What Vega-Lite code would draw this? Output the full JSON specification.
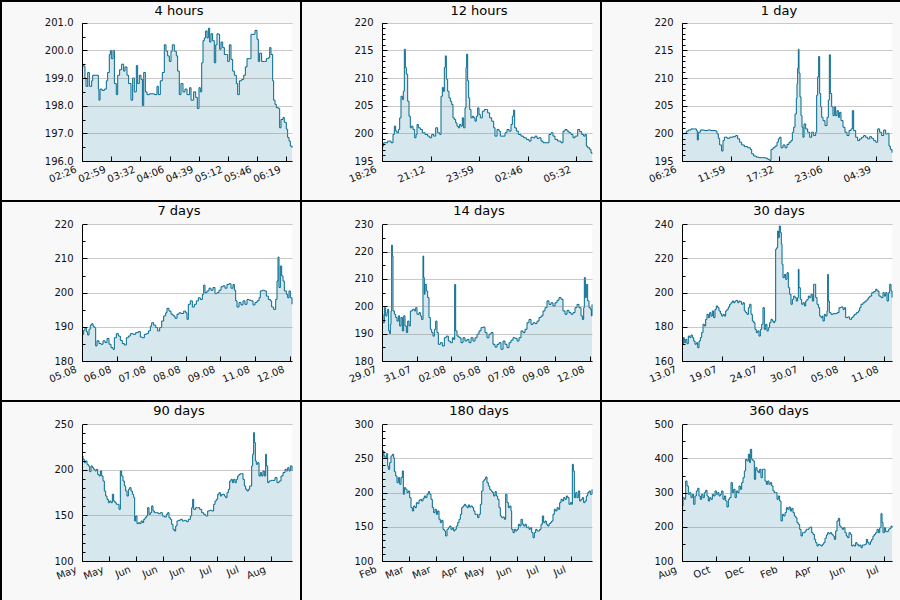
{
"$schema":"https://vega.github.io/schema/vega-lite/v6.json",
"background":"#f8f8f8",
"padding":0,
"columns":3,
"spacing":0,
"bounds":"flush",
"config":{
 "font":"DejaVu Sans",
 "view":{"stroke":"#000","strokeWidth":2,"fill":"#f8f8f8"},
 "title":{"font":"DejaVu Sans","fontSize":13,"fontWeight":"normal","color":"#000","anchor":"middle","offset":-17,"dx":28,"baseline":"alphabetic"},
 "axis":{"labelFont":"DejaVu Sans","labelFontSize":10,"labelColor":"#111","domainColor":"#000","tickColor":"#000","tickSize":-5,"labelPadding":14,"grid":false,"gridColor":"#888","gridOpacity":0.45,"labelOverlap":false,"labelFlush":false,"labelBound":false},
 "axisX":{"labelAngle":-22,"labelAlign":"right","labelBaseline":"top","labelPadding":8,"labelOffset":-8}
},
"datasets":{
"h4":[{"t":0,"v":199.5},{"t":1.9,"v":199.43},{"t":3.4,"v":199.0},{"t":4.6,"v":198.7},{"t":6.5,"v":199.2},{"t":8.4,"v":198.7},{"t":11.0,"v":198.9},{"t":12.2,"v":199.1},{"t":17.1,"v":199.1},{"t":18.7,"v":198.6},{"t":19.4,"v":198.2},{"t":20.6,"v":198.6},{"t":22.9,"v":198.55},{"t":25.5,"v":198.6},{"t":27.8,"v":198.9},{"t":29.3,"v":199.2},{"t":31.2,"v":199.85},{"t":32.4,"v":200.0},{"t":33.5,"v":199.7},{"t":35.4,"v":200.0},{"t":37.0,"v":198.8},{"t":39.2,"v":198.4},{"t":40.8,"v":199.1},{"t":43.0,"v":199.3},{"t":45.3,"v":199.5},{"t":47.6,"v":199.25},{"t":49.1,"v":199.4},{"t":51.4,"v":199.1},{"t":53.3,"v":198.8},{"t":56.0,"v":198.2},{"t":57.9,"v":199.0},{"t":59.8,"v":198.5},{"t":62.1,"v":199.45},{"t":63.6,"v":198.8},{"t":65.5,"v":199.1},{"t":67.4,"v":198.95},{"t":69.0,"v":198.0},{"t":70.5,"v":199.2},{"t":72.4,"v":198.5},{"t":74.3,"v":198.4},{"t":77.0,"v":198.43},{"t":82.7,"v":198.4},{"t":85.7,"v":198.7},{"t":87.2,"v":198.4},{"t":89.5,"v":198.9},{"t":91.8,"v":199.2},{"t":94.1,"v":200.2},{"t":96.0,"v":199.97},{"t":97.9,"v":199.8},{"t":99.8,"v":199.6},{"t":101.7,"v":199.97},{"t":103.2,"v":200.2},{"t":105.5,"v":199.97},{"t":107.8,"v":199.8},{"t":109.3,"v":199.25},{"t":111.2,"v":198.4},{"t":113.1,"v":198.8},{"t":115.4,"v":198.5},{"t":117.7,"v":198.6},{"t":120.0,"v":198.4},{"t":123.0,"v":198.65},{"t":124.6,"v":198.2},{"t":127.6,"v":198.5},{"t":129.9,"v":198.3},{"t":131.8,"v":197.9},{"t":133.7,"v":198.65},{"t":135.2,"v":198.5},{"t":136.8,"v":199.55},{"t":138.3,"v":200.35},{"t":139.8,"v":200.45},{"t":141.3,"v":200.7},{"t":142.9,"v":200.45},{"t":144.4,"v":200.8},{"t":145.9,"v":200.3},{"t":147.4,"v":200.6},{"t":149.3,"v":200.35},{"t":151.2,"v":199.55},{"t":152.8,"v":200.2},{"t":154.3,"v":200.6},{"t":155.8,"v":200.58},{"t":157.3,"v":200.04},{"t":158.9,"v":200.3},{"t":160.8,"v":200.1},{"t":162.7,"v":199.85},{"t":165.0,"v":199.85},{"t":166.5,"v":199.6},{"t":168.4,"v":200.2},{"t":170.3,"v":199.67},{"t":172.2,"v":199.25},{"t":174.1,"v":199.1},{"t":176.4,"v":198.8},{"t":177.9,"v":198.4},{"t":179.8,"v":198.9},{"t":182.5,"v":198.95},{"t":184.8,"v":199.1},{"t":186.7,"v":199.4},{"t":188.6,"v":199.7},{"t":191.2,"v":199.7},{"t":193.1,"v":200.58},{"t":195.4,"v":200.58},{"t":197.7,"v":200.72},{"t":200.0,"v":200.4},{"t":201.5,"v":199.6},{"t":203.0,"v":199.9},{"t":205.3,"v":199.6},{"t":208.4,"v":199.6},{"t":210.7,"v":199.7},{"t":213.0,"v":199.73},{"t":214.5,"v":200.1},{"t":216.0,"v":199.85},{"t":217.9,"v":198.9},{"t":219.0,"v":198.2},{"t":220.6,"v":198.05},{"t":222.1,"v":197.93},{"t":224.4,"v":197.9},{"t":225.9,"v":197.2},{"t":227.4,"v":197.5},{"t":229.7,"v":197.57},{"t":231.2,"v":197.4},{"t":233.5,"v":197.15},{"t":235.0,"v":196.85},{"t":236.6,"v":196.72},{"t":238.1,"v":196.54},{"t":240,"v":196.48}],
"h12":[{"t":0,"v":197.7},{"t":5.7,"v":198.3},{"t":13.7,"v":198.3},{"t":19.4,"v":198.6},{"t":30.9,"v":198.3},{"t":37.7,"v":199.8},{"t":42.3,"v":201.3},{"t":46.9,"v":200.4},{"t":51.4,"v":200.1},{"t":56.0,"v":200.7},{"t":60.6,"v":202.8},{"t":65.1,"v":206.7},{"t":69.7,"v":206.1},{"t":73.1,"v":207.6},{"t":76.6,"v":215.2},{"t":80.0,"v":211.9},{"t":83.4,"v":210.7},{"t":88.0,"v":205.8},{"t":92.6,"v":203.1},{"t":97.1,"v":201.0},{"t":101.7,"v":201.3},{"t":106.3,"v":200.7},{"t":112.0,"v":199.2},{"t":116.6,"v":199.8},{"t":120.0,"v":201.6},{"t":124.6,"v":201.0},{"t":131.4,"v":200.7},{"t":138.3,"v":200.1},{"t":147.4,"v":199.8},{"t":156.6,"v":199.5},{"t":163.4,"v":199.2},{"t":170.3,"v":199.8},{"t":177.1,"v":199.5},{"t":184.0,"v":201.0},{"t":190.9,"v":200.1},{"t":197.7,"v":199.8},{"t":202.3,"v":206.7},{"t":206.9,"v":208.3},{"t":210.3,"v":207.6},{"t":213.7,"v":211.9},{"t":217.1,"v":214.0},{"t":220.6,"v":209.8},{"t":225.1,"v":207.6},{"t":229.7,"v":206.4},{"t":234.3,"v":205.8},{"t":238.9,"v":205.2},{"t":243.4,"v":202.8},{"t":248.0,"v":202.5},{"t":252.6,"v":201.9},{"t":257.1,"v":201.3},{"t":261.7,"v":201.0},{"t":266.3,"v":201.6},{"t":270.9,"v":201.3},{"t":275.4,"v":202.8},{"t":280.0,"v":201.0},{"t":284.6,"v":204.6},{"t":288.0,"v":211.9},{"t":290.3,"v":214.3},{"t":293.7,"v":209.5},{"t":297.1,"v":206.4},{"t":300.6,"v":204.3},{"t":305.1,"v":202.8},{"t":309.7,"v":203.1},{"t":314.3,"v":202.8},{"t":318.9,"v":202.2},{"t":323.4,"v":203.1},{"t":328.0,"v":204.6},{"t":332.6,"v":203.4},{"t":337.1,"v":202.8},{"t":344.0,"v":204.0},{"t":350.9,"v":204.3},{"t":357.7,"v":204.3},{"t":362.3,"v":203.7},{"t":369.1,"v":202.8},{"t":376.0,"v":202.2},{"t":382.9,"v":201.0},{"t":387.4,"v":199.5},{"t":394.3,"v":200.7},{"t":401.1,"v":200.4},{"t":405.7,"v":199.5},{"t":414.9,"v":199.5},{"t":421.7,"v":200.1},{"t":428.6,"v":200.7},{"t":435.4,"v":200.4},{"t":442.3,"v":201.6},{"t":446.9,"v":203.1},{"t":451.4,"v":204.2},{"t":454.9,"v":201.0},{"t":460.6,"v":200.4},{"t":467.4,"v":199.8},{"t":476.6,"v":199.5},{"t":485.7,"v":199.2},{"t":494.9,"v":198.9},{"t":504.0,"v":198.6},{"t":510.9,"v":199.3},{"t":517.7,"v":199.2},{"t":524.6,"v":199.5},{"t":531.4,"v":199.1},{"t":538.3,"v":199.2},{"t":545.1,"v":198.6},{"t":552.0,"v":198.3},{"t":565.7,"v":198.3},{"t":572.6,"v":199.8},{"t":579.4,"v":200.1},{"t":586.3,"v":199.5},{"t":593.1,"v":198.9},{"t":602.3,"v":198.6},{"t":613.7,"v":198.3},{"t":620.6,"v":200.4},{"t":627.4,"v":200.7},{"t":634.3,"v":200.4},{"t":641.1,"v":200.1},{"t":648.0,"v":199.8},{"t":654.9,"v":199.2},{"t":661.7,"v":199.5},{"t":670.9,"v":200.7},{"t":677.7,"v":200.3},{"t":684.6,"v":199.8},{"t":691.4,"v":199.5},{"t":696.0,"v":199.8},{"t":700.6,"v":197.7},{"t":705.1,"v":197.4},{"t":712.0,"v":197.1},{"t":716.6,"v":196.5},{"t":720,"v":196.3}],
"d1":[{"t":0,"v":199.9},{"t":11.4,"v":200.0},{"t":29.7,"v":200.4},{"t":43.4,"v":200.6},{"t":61.7,"v":200.8},{"t":84.6,"v":200.8},{"t":98.3,"v":200.5},{"t":105.1,"v":198.8},{"t":112.0,"v":200.2},{"t":125.7,"v":200.6},{"t":153.1,"v":200.5},{"t":176.0,"v":200.6},{"t":198.9,"v":200.5},{"t":230.9,"v":200.4},{"t":240.0,"v":199.9},{"t":249.1,"v":199.1},{"t":258.3,"v":197.9},{"t":272.0,"v":196.8},{"t":281.1,"v":198.7},{"t":290.3,"v":199.3},{"t":308.6,"v":199.1},{"t":326.9,"v":199.3},{"t":349.7,"v":199.4},{"t":368.0,"v":199.6},{"t":381.7,"v":199.0},{"t":395.4,"v":198.4},{"t":409.1,"v":197.9},{"t":427.4,"v":197.6},{"t":450.3,"v":197.4},{"t":468.6,"v":197.1},{"t":477.7,"v":196.3},{"t":491.4,"v":195.9},{"t":509.7,"v":195.7},{"t":528.0,"v":195.6},{"t":550.9,"v":195.6},{"t":573.7,"v":195.5},{"t":587.4,"v":195.3},{"t":601.1,"v":195.1},{"t":610.3,"v":197.1},{"t":624.0,"v":197.4},{"t":637.7,"v":197.7},{"t":651.4,"v":198.4},{"t":660.6,"v":199.0},{"t":669.7,"v":199.3},{"t":678.9,"v":197.4},{"t":692.6,"v":197.9},{"t":706.3,"v":197.4},{"t":720.0,"v":198.0},{"t":733.7,"v":198.4},{"t":747.4,"v":198.7},{"t":756.6,"v":200.2},{"t":765.7,"v":201.1},{"t":774.9,"v":203.5},{"t":784.0,"v":206.3},{"t":788.6,"v":209.0},{"t":793.1,"v":211.8},{"t":797.7,"v":215.2},{"t":802.3,"v":210.9},{"t":809.1,"v":206.6},{"t":816.0,"v":203.2},{"t":822.9,"v":201.1},{"t":829.7,"v":199.3},{"t":836.6,"v":201.7},{"t":848.0,"v":200.8},{"t":861.7,"v":200.2},{"t":875.4,"v":199.3},{"t":889.1,"v":200.2},{"t":902.9,"v":199.6},{"t":916.6,"v":200.2},{"t":923.4,"v":206.9},{"t":930.3,"v":210.2},{"t":937.1,"v":213.9},{"t":944.0,"v":207.2},{"t":950.9,"v":204.8},{"t":957.7,"v":202.9},{"t":966.9,"v":202.3},{"t":980.6,"v":201.4},{"t":994.3,"v":202.9},{"t":1003.4,"v":206.0},{"t":1010.3,"v":214.2},{"t":1017.1,"v":207.2},{"t":1026.3,"v":204.8},{"t":1035.4,"v":203.2},{"t":1044.6,"v":204.8},{"t":1053.7,"v":203.2},{"t":1062.9,"v":204.1},{"t":1072.0,"v":202.9},{"t":1081.1,"v":203.8},{"t":1090.3,"v":202.3},{"t":1104.0,"v":201.1},{"t":1117.7,"v":200.2},{"t":1131.4,"v":199.6},{"t":1145.1,"v":200.5},{"t":1158.9,"v":200.8},{"t":1168.0,"v":204.1},{"t":1177.1,"v":200.5},{"t":1190.9,"v":199.3},{"t":1204.6,"v":198.7},{"t":1218.3,"v":199.0},{"t":1232.0,"v":199.3},{"t":1245.7,"v":199.6},{"t":1259.4,"v":199.3},{"t":1273.1,"v":199.0},{"t":1286.9,"v":199.4},{"t":1300.6,"v":199.1},{"t":1314.3,"v":198.7},{"t":1328.0,"v":198.4},{"t":1341.7,"v":200.8},{"t":1355.4,"v":200.2},{"t":1369.1,"v":199.6},{"t":1382.9,"v":200.6},{"t":1396.6,"v":199.9},{"t":1410.3,"v":200.0},{"t":1419.4,"v":197.7},{"t":1428.6,"v":197.1},{"t":1440,"v":196.5}],
"d7":[{"t":0,"v":187.8},{"t":0.056,"v":189.0},{"t":0.1,"v":189.8},{"t":0.144,"v":188.6},{"t":0.189,"v":187.6},{"t":0.233,"v":189.3},{"t":0.278,"v":190.5},{"t":0.322,"v":190.9},{"t":0.367,"v":190.2},{"t":0.411,"v":189.8},{"t":0.456,"v":184.4},{"t":0.5,"v":185.9},{"t":0.567,"v":185.1},{"t":0.633,"v":184.9},{"t":0.7,"v":185.9},{"t":0.767,"v":185.4},{"t":0.833,"v":186.6},{"t":0.9,"v":184.9},{"t":0.967,"v":183.9},{"t":1.033,"v":183.4},{"t":1.078,"v":186.8},{"t":1.144,"v":188.0},{"t":1.211,"v":187.3},{"t":1.278,"v":186.0},{"t":1.344,"v":185.1},{"t":1.411,"v":184.7},{"t":1.478,"v":186.8},{"t":1.544,"v":187.3},{"t":1.611,"v":188.0},{"t":1.7,"v":187.8},{"t":1.789,"v":188.3},{"t":1.878,"v":188.6},{"t":1.944,"v":187.0},{"t":2.011,"v":186.8},{"t":2.078,"v":187.8},{"t":2.144,"v":188.0},{"t":2.211,"v":188.8},{"t":2.278,"v":190.2},{"t":2.322,"v":191.2},{"t":2.389,"v":190.5},{"t":2.456,"v":189.8},{"t":2.522,"v":188.8},{"t":2.589,"v":189.8},{"t":2.656,"v":191.7},{"t":2.722,"v":193.2},{"t":2.789,"v":194.1},{"t":2.833,"v":195.4},{"t":2.9,"v":194.6},{"t":2.967,"v":193.7},{"t":3.033,"v":193.2},{"t":3.1,"v":192.5},{"t":3.167,"v":193.7},{"t":3.233,"v":194.1},{"t":3.3,"v":193.9},{"t":3.389,"v":194.6},{"t":3.456,"v":194.1},{"t":3.5,"v":192.2},{"t":3.544,"v":196.6},{"t":3.611,"v":197.6},{"t":3.678,"v":195.8},{"t":3.744,"v":196.6},{"t":3.811,"v":197.6},{"t":3.878,"v":198.5},{"t":3.944,"v":198.0},{"t":4.011,"v":199.5},{"t":4.056,"v":202.2},{"t":4.1,"v":200.0},{"t":4.167,"v":200.5},{"t":4.233,"v":201.3},{"t":4.3,"v":200.7},{"t":4.367,"v":201.5},{"t":4.433,"v":199.7},{"t":4.5,"v":200.0},{"t":4.567,"v":200.7},{"t":4.633,"v":201.7},{"t":4.7,"v":202.0},{"t":4.767,"v":201.3},{"t":4.833,"v":202.4},{"t":4.9,"v":202.6},{"t":4.967,"v":201.3},{"t":5.033,"v":202.4},{"t":5.078,"v":200.7},{"t":5.122,"v":197.6},{"t":5.167,"v":195.8},{"t":5.233,"v":197.1},{"t":5.3,"v":196.4},{"t":5.367,"v":197.6},{"t":5.433,"v":196.6},{"t":5.5,"v":198.0},{"t":5.567,"v":197.8},{"t":5.633,"v":197.6},{"t":5.7,"v":196.4},{"t":5.767,"v":197.1},{"t":5.833,"v":197.6},{"t":5.9,"v":198.5},{"t":5.944,"v":200.5},{"t":6.011,"v":200.7},{"t":6.078,"v":200.5},{"t":6.144,"v":199.0},{"t":6.211,"v":198.0},{"t":6.278,"v":197.6},{"t":6.322,"v":195.8},{"t":6.389,"v":195.1},{"t":6.456,"v":198.0},{"t":6.5,"v":203.4},{"t":6.533,"v":210.4},{"t":6.567,"v":201.5},{"t":6.611,"v":207.8},{"t":6.656,"v":204.9},{"t":6.7,"v":203.4},{"t":6.744,"v":200.5},{"t":6.811,"v":199.5},{"t":6.856,"v":198.5},{"t":6.9,"v":200.5},{"t":6.944,"v":198.5},{"t":7,"v":196.6}],
"d14":[{"t":0,"v":197.1},{"t":0.067,"v":194.0},{"t":0.156,"v":199.5},{"t":0.244,"v":196.5},{"t":0.333,"v":197.7},{"t":0.378,"v":198.9},{"t":0.444,"v":191.0},{"t":0.511,"v":190.0},{"t":0.556,"v":193.4},{"t":0.6,"v":198.3},{"t":0.644,"v":222.4},{"t":0.689,"v":218.4},{"t":0.733,"v":198.3},{"t":0.822,"v":197.1},{"t":0.911,"v":195.9},{"t":1.0,"v":194.6},{"t":1.089,"v":196.5},{"t":1.178,"v":192.8},{"t":1.267,"v":195.9},{"t":1.356,"v":191.0},{"t":1.444,"v":196.5},{"t":1.533,"v":192.8},{"t":1.622,"v":190.4},{"t":1.711,"v":194.6},{"t":1.8,"v":192.8},{"t":1.889,"v":198.3},{"t":2.022,"v":198.9},{"t":2.156,"v":198.3},{"t":2.244,"v":199.5},{"t":2.333,"v":197.1},{"t":2.467,"v":197.7},{"t":2.556,"v":196.5},{"t":2.644,"v":195.2},{"t":2.733,"v":218.4},{"t":2.778,"v":210.5},{"t":2.822,"v":204.4},{"t":2.867,"v":208.0},{"t":2.956,"v":205.6},{"t":3.044,"v":203.2},{"t":3.133,"v":195.9},{"t":3.222,"v":191.6},{"t":3.311,"v":190.4},{"t":3.4,"v":189.1},{"t":3.489,"v":191.6},{"t":3.578,"v":194.6},{"t":3.667,"v":190.4},{"t":3.756,"v":186.1},{"t":3.889,"v":186.7},{"t":4.022,"v":185.5},{"t":4.156,"v":188.5},{"t":4.289,"v":189.1},{"t":4.422,"v":187.3},{"t":4.556,"v":186.7},{"t":4.689,"v":188.5},{"t":4.778,"v":187.9},{"t":4.844,"v":208.0},{"t":4.911,"v":191.0},{"t":5.0,"v":189.1},{"t":5.133,"v":188.5},{"t":5.267,"v":186.7},{"t":5.4,"v":188.5},{"t":5.533,"v":187.3},{"t":5.667,"v":187.9},{"t":5.8,"v":186.7},{"t":5.933,"v":188.5},{"t":6.067,"v":187.3},{"t":6.2,"v":188.5},{"t":6.333,"v":189.8},{"t":6.467,"v":191.0},{"t":6.6,"v":192.2},{"t":6.733,"v":192.4},{"t":6.867,"v":190.4},{"t":7.0,"v":188.5},{"t":7.133,"v":189.8},{"t":7.267,"v":190.4},{"t":7.4,"v":186.1},{"t":7.533,"v":185.1},{"t":7.667,"v":186.1},{"t":7.8,"v":186.7},{"t":7.933,"v":184.3},{"t":8.067,"v":187.3},{"t":8.2,"v":186.1},{"t":8.333,"v":184.9},{"t":8.467,"v":186.7},{"t":8.6,"v":187.6},{"t":8.733,"v":188.5},{"t":8.867,"v":188.3},{"t":9.0,"v":187.3},{"t":9.133,"v":188.5},{"t":9.267,"v":191.0},{"t":9.4,"v":190.4},{"t":9.533,"v":191.6},{"t":9.667,"v":194.0},{"t":9.8,"v":195.2},{"t":9.933,"v":193.4},{"t":10.067,"v":194.0},{"t":10.2,"v":193.7},{"t":10.333,"v":194.6},{"t":10.467,"v":195.9},{"t":10.6,"v":196.5},{"t":10.733,"v":198.3},{"t":10.867,"v":199.5},{"t":11.0,"v":202.0},{"t":11.133,"v":200.7},{"t":11.267,"v":201.3},{"t":11.4,"v":200.1},{"t":11.533,"v":201.3},{"t":11.667,"v":202.2},{"t":11.8,"v":203.2},{"t":11.933,"v":202.6},{"t":12.067,"v":198.3},{"t":12.2,"v":197.1},{"t":12.333,"v":198.5},{"t":12.467,"v":197.7},{"t":12.6,"v":197.1},{"t":12.733,"v":197.7},{"t":12.867,"v":199.5},{"t":13.0,"v":200.7},{"t":13.133,"v":199.5},{"t":13.267,"v":196.5},{"t":13.356,"v":195.2},{"t":13.444,"v":199.5},{"t":13.489,"v":210.5},{"t":13.556,"v":203.2},{"t":13.622,"v":208.0},{"t":13.711,"v":202.0},{"t":13.8,"v":199.5},{"t":13.889,"v":198.9},{"t":13.956,"v":196.5},{"t":14,"v":200.7}],
"d30":[{"t":0,"v":169.8},{"t":0.19,"v":173.7},{"t":0.33,"v":170.7},{"t":0.52,"v":172.7},{"t":0.71,"v":170.1},{"t":0.9,"v":174.6},{"t":1.1,"v":173.7},{"t":1.29,"v":175.2},{"t":1.48,"v":173.7},{"t":1.67,"v":171.7},{"t":1.86,"v":169.8},{"t":2.05,"v":170.7},{"t":2.24,"v":167.8},{"t":2.43,"v":171.7},{"t":2.62,"v":173.7},{"t":2.81,"v":176.6},{"t":3.0,"v":181.5},{"t":3.19,"v":180.5},{"t":3.38,"v":184.4},{"t":3.57,"v":187.3},{"t":3.76,"v":185.4},{"t":3.95,"v":188.3},{"t":4.14,"v":186.3},{"t":4.33,"v":189.3},{"t":4.52,"v":185.4},{"t":4.71,"v":190.2},{"t":4.9,"v":192.2},{"t":5.1,"v":191.2},{"t":5.29,"v":189.3},{"t":5.48,"v":187.7},{"t":5.67,"v":186.3},{"t":5.86,"v":187.3},{"t":6.05,"v":186.3},{"t":6.24,"v":189.3},{"t":6.43,"v":190.2},{"t":6.62,"v":191.6},{"t":6.81,"v":193.2},{"t":7.0,"v":194.1},{"t":7.19,"v":195.1},{"t":7.38,"v":194.1},{"t":7.57,"v":195.1},{"t":7.76,"v":195.5},{"t":7.95,"v":194.1},{"t":8.14,"v":195.1},{"t":8.33,"v":194.7},{"t":8.52,"v":193.2},{"t":8.71,"v":194.1},{"t":8.9,"v":189.3},{"t":9.1,"v":188.3},{"t":9.29,"v":187.3},{"t":9.48,"v":191.2},{"t":9.67,"v":193.2},{"t":9.86,"v":187.3},{"t":10.05,"v":183.4},{"t":10.24,"v":182.4},{"t":10.43,"v":178.5},{"t":10.62,"v":176.6},{"t":10.81,"v":177.6},{"t":11.0,"v":174.6},{"t":11.19,"v":178.5},{"t":11.38,"v":181.5},{"t":11.57,"v":191.2},{"t":11.76,"v":178.5},{"t":11.95,"v":181.5},{"t":12.14,"v":177.6},{"t":12.33,"v":179.5},{"t":12.52,"v":182.4},{"t":12.71,"v":184.4},{"t":12.9,"v":183.4},{"t":13.1,"v":182.4},{"t":13.24,"v":183.4},{"t":13.38,"v":225.4},{"t":13.52,"v":226.3},{"t":13.67,"v":236.1},{"t":13.76,"v":232.2},{"t":13.9,"v":239.0},{"t":14.05,"v":235.1},{"t":14.19,"v":228.3},{"t":14.29,"v":216.6},{"t":14.43,"v":208.8},{"t":14.62,"v":210.7},{"t":14.81,"v":207.8},{"t":15.0,"v":211.7},{"t":15.19,"v":202.9},{"t":15.38,"v":199.0},{"t":15.57,"v":193.2},{"t":15.76,"v":196.1},{"t":15.95,"v":198.0},{"t":16.14,"v":197.1},{"t":16.33,"v":195.1},{"t":16.52,"v":197.1},{"t":16.62,"v":213.7},{"t":16.71,"v":202.9},{"t":16.9,"v":196.1},{"t":17.1,"v":193.2},{"t":17.29,"v":194.1},{"t":17.48,"v":192.2},{"t":17.67,"v":195.1},{"t":17.86,"v":196.1},{"t":18.05,"v":198.0},{"t":18.24,"v":197.1},{"t":18.43,"v":199.0},{"t":18.62,"v":195.1},{"t":18.81,"v":204.9},{"t":18.95,"v":204.9},{"t":19.1,"v":197.1},{"t":19.29,"v":193.2},{"t":19.48,"v":191.2},{"t":19.67,"v":186.3},{"t":19.86,"v":185.4},{"t":20.05,"v":186.3},{"t":20.14,"v":183.4},{"t":20.33,"v":187.3},{"t":20.52,"v":186.3},{"t":20.71,"v":189.3},{"t":20.81,"v":210.7},{"t":20.9,"v":195.1},{"t":21.05,"v":188.3},{"t":21.29,"v":187.3},{"t":21.57,"v":187.7},{"t":21.86,"v":187.7},{"t":22.14,"v":188.3},{"t":22.43,"v":191.2},{"t":22.71,"v":191.6},{"t":23.0,"v":190.2},{"t":23.19,"v":191.2},{"t":23.38,"v":185.4},{"t":23.67,"v":185.8},{"t":23.95,"v":184.4},{"t":24.24,"v":185.4},{"t":24.43,"v":186.3},{"t":24.62,"v":187.3},{"t":24.9,"v":188.3},{"t":25.19,"v":189.3},{"t":25.38,"v":191.2},{"t":25.57,"v":193.2},{"t":25.86,"v":194.1},{"t":26.14,"v":195.1},{"t":26.43,"v":196.1},{"t":26.62,"v":197.1},{"t":26.81,"v":198.0},{"t":27.1,"v":200.0},{"t":27.38,"v":200.6},{"t":27.67,"v":202.0},{"t":27.86,"v":201.0},{"t":28.14,"v":198.0},{"t":28.43,"v":197.1},{"t":28.71,"v":200.0},{"t":28.9,"v":198.0},{"t":29.1,"v":200.0},{"t":29.29,"v":195.1},{"t":29.48,"v":200.0},{"t":29.67,"v":204.9},{"t":29.86,"v":201.0},{"t":30,"v":197.1}],
"d90":[{"t":0,"v":215.2},{"t":0.43,"v":211.6},{"t":1.0,"v":207.9},{"t":1.57,"v":209.8},{"t":2.14,"v":206.1},{"t":2.71,"v":204.3},{"t":3.29,"v":198.0},{"t":3.86,"v":204.3},{"t":4.43,"v":202.4},{"t":5.0,"v":200.6},{"t":5.57,"v":198.8},{"t":6.14,"v":200.6},{"t":6.71,"v":195.1},{"t":7.29,"v":193.3},{"t":7.86,"v":198.8},{"t":8.43,"v":193.3},{"t":9.0,"v":187.8},{"t":9.57,"v":176.8},{"t":10.14,"v":171.3},{"t":10.71,"v":167.7},{"t":11.29,"v":164.0},{"t":11.86,"v":165.8},{"t":12.43,"v":164.0},{"t":13.0,"v":173.2},{"t":13.57,"v":165.8},{"t":14.14,"v":164.0},{"t":14.71,"v":162.2},{"t":15.29,"v":162.2},{"t":15.86,"v":156.7},{"t":16.43,"v":198.8},{"t":17.0,"v":193.3},{"t":17.57,"v":187.8},{"t":18.14,"v":182.3},{"t":18.71,"v":176.8},{"t":19.29,"v":171.3},{"t":19.86,"v":178.7},{"t":20.43,"v":180.5},{"t":21.0,"v":176.8},{"t":21.57,"v":173.2},{"t":22.14,"v":169.5},{"t":22.57,"v":143.9},{"t":23.0,"v":149.4},{"t":23.57,"v":141.0},{"t":24.14,"v":142.1},{"t":24.71,"v":141.0},{"t":25.29,"v":143.9},{"t":25.86,"v":142.1},{"t":26.43,"v":145.7},{"t":27.0,"v":147.5},{"t":27.57,"v":149.4},{"t":28.14,"v":158.5},{"t":28.71,"v":151.2},{"t":29.29,"v":153.0},{"t":29.86,"v":160.4},{"t":30.43,"v":154.9},{"t":31.0,"v":153.0},{"t":31.86,"v":153.0},{"t":32.71,"v":151.9},{"t":33.57,"v":153.0},{"t":34.43,"v":149.4},{"t":35.29,"v":148.3},{"t":36.14,"v":151.2},{"t":36.71,"v":153.0},{"t":37.29,"v":147.5},{"t":37.86,"v":145.7},{"t":38.43,"v":140.2},{"t":39.0,"v":134.7},{"t":39.57,"v":132.9},{"t":40.14,"v":138.4},{"t":40.71,"v":143.9},{"t":41.29,"v":144.6},{"t":42.14,"v":145.7},{"t":43.0,"v":143.9},{"t":43.86,"v":144.6},{"t":44.71,"v":143.2},{"t":45.57,"v":145.7},{"t":46.43,"v":149.4},{"t":47.0,"v":158.5},{"t":47.43,"v":167.7},{"t":47.86,"v":156.7},{"t":48.71,"v":158.5},{"t":49.57,"v":158.5},{"t":50.43,"v":156.7},{"t":51.29,"v":153.0},{"t":52.14,"v":151.2},{"t":53.0,"v":149.4},{"t":53.86,"v":154.9},{"t":54.71,"v":155.6},{"t":55.57,"v":154.9},{"t":56.43,"v":162.2},{"t":57.0,"v":165.8},{"t":57.57,"v":167.7},{"t":58.14,"v":173.2},{"t":58.71,"v":175.0},{"t":59.29,"v":171.3},{"t":59.86,"v":173.2},{"t":60.43,"v":173.2},{"t":61.0,"v":171.3},{"t":61.57,"v":169.5},{"t":62.14,"v":175.0},{"t":62.71,"v":178.7},{"t":63.29,"v":187.8},{"t":63.86,"v":189.6},{"t":64.43,"v":186.0},{"t":65.0,"v":189.6},{"t":65.57,"v":186.0},{"t":66.14,"v":189.6},{"t":66.71,"v":193.3},{"t":67.29,"v":195.1},{"t":67.86,"v":195.8},{"t":68.43,"v":195.8},{"t":69.0,"v":189.6},{"t":69.57,"v":182.3},{"t":70.14,"v":178.7},{"t":70.71,"v":176.8},{"t":71.29,"v":178.7},{"t":71.86,"v":182.3},{"t":72.43,"v":182.3},{"t":72.71,"v":204.3},{"t":73.14,"v":217.1},{"t":73.57,"v":240.9},{"t":73.86,"v":230.0},{"t":74.29,"v":209.8},{"t":74.71,"v":206.1},{"t":75.29,"v":207.9},{"t":75.86,"v":193.3},{"t":76.43,"v":197.0},{"t":77.0,"v":193.3},{"t":77.57,"v":198.8},{"t":78.14,"v":193.3},{"t":78.71,"v":217.1},{"t":79.0,"v":204.3},{"t":79.57,"v":186.0},{"t":80.14,"v":187.8},{"t":81.0,"v":188.5},{"t":81.86,"v":188.5},{"t":82.71,"v":191.5},{"t":83.57,"v":186.0},{"t":84.43,"v":187.8},{"t":85.29,"v":193.3},{"t":86.14,"v":197.0},{"t":87.0,"v":200.6},{"t":87.57,"v":198.8},{"t":88.14,"v":202.4},{"t":88.71,"v":198.8},{"t":89.29,"v":204.3},{"t":90,"v":198.8}],
"d180":[{"t":0,"v":251.2},{"t":0.86,"v":261.0},{"t":1.71,"v":253.7},{"t":2.57,"v":250.2},{"t":3.71,"v":257.1},{"t":4.86,"v":239.0},{"t":5.43,"v":234.1},{"t":6.57,"v":243.9},{"t":7.71,"v":253.7},{"t":8.86,"v":256.1},{"t":10.0,"v":251.2},{"t":10.57,"v":230.7},{"t":11.71,"v":224.4},{"t":12.86,"v":214.6},{"t":14.0,"v":222.0},{"t":15.14,"v":212.2},{"t":16.29,"v":222.0},{"t":17.43,"v":231.7},{"t":18.29,"v":197.6},{"t":19.14,"v":207.3},{"t":20.29,"v":204.9},{"t":21.43,"v":200.0},{"t":22.57,"v":202.4},{"t":23.71,"v":192.7},{"t":24.86,"v":178.0},{"t":26.0,"v":173.2},{"t":27.14,"v":180.5},{"t":28.29,"v":178.0},{"t":29.43,"v":185.4},{"t":30.57,"v":183.9},{"t":31.71,"v":188.8},{"t":32.86,"v":190.2},{"t":34.0,"v":187.8},{"t":35.14,"v":191.7},{"t":36.29,"v":195.1},{"t":37.43,"v":192.7},{"t":38.57,"v":197.6},{"t":39.71,"v":201.5},{"t":40.86,"v":197.6},{"t":42.0,"v":190.2},{"t":43.14,"v":178.0},{"t":44.29,"v":170.7},{"t":45.43,"v":175.6},{"t":46.57,"v":168.3},{"t":47.71,"v":173.2},{"t":48.86,"v":161.0},{"t":50.0,"v":156.1},{"t":51.14,"v":159.5},{"t":52.29,"v":146.3},{"t":53.43,"v":143.9},{"t":54.57,"v":136.6},{"t":55.71,"v":146.3},{"t":56.86,"v":148.8},{"t":58.0,"v":151.2},{"t":59.14,"v":146.3},{"t":60.29,"v":148.8},{"t":61.43,"v":143.9},{"t":62.57,"v":146.3},{"t":63.71,"v":151.2},{"t":64.86,"v":156.1},{"t":66.0,"v":161.0},{"t":67.14,"v":168.3},{"t":68.29,"v":178.0},{"t":69.43,"v":180.5},{"t":70.57,"v":182.9},{"t":71.71,"v":180.5},{"t":72.86,"v":178.0},{"t":74.0,"v":182.0},{"t":75.14,"v":179.0},{"t":76.29,"v":180.5},{"t":77.43,"v":178.0},{"t":78.57,"v":173.2},{"t":79.71,"v":168.3},{"t":80.86,"v":168.3},{"t":82.0,"v":163.4},{"t":83.14,"v":168.3},{"t":84.29,"v":182.9},{"t":85.43,"v":202.4},{"t":86.57,"v":217.1},{"t":87.71,"v":219.5},{"t":88.86,"v":222.9},{"t":90.0,"v":214.6},{"t":91.14,"v":209.8},{"t":92.29,"v":204.9},{"t":93.43,"v":202.4},{"t":94.57,"v":200.0},{"t":95.71,"v":195.1},{"t":96.86,"v":201.5},{"t":98.0,"v":195.1},{"t":99.14,"v":190.2},{"t":100.29,"v":178.0},{"t":101.43,"v":165.9},{"t":102.57,"v":163.4},{"t":103.71,"v":164.4},{"t":104.86,"v":161.0},{"t":106.0,"v":197.6},{"t":107.14,"v":185.4},{"t":108.29,"v":178.0},{"t":109.43,"v":180.5},{"t":110.57,"v":173.2},{"t":111.14,"v":146.3},{"t":112.29,"v":141.5},{"t":113.43,"v":146.3},{"t":114.57,"v":143.9},{"t":115.71,"v":146.3},{"t":116.86,"v":153.7},{"t":118.0,"v":151.2},{"t":119.14,"v":161.0},{"t":120.29,"v":153.7},{"t":121.43,"v":151.2},{"t":122.57,"v":153.7},{"t":123.71,"v":148.8},{"t":124.86,"v":149.8},{"t":126.0,"v":146.3},{"t":127.14,"v":148.8},{"t":128.29,"v":141.5},{"t":129.43,"v":134.1},{"t":130.57,"v":141.5},{"t":131.71,"v":146.3},{"t":132.86,"v":143.9},{"t":134.0,"v":143.9},{"t":135.14,"v":146.3},{"t":136.29,"v":153.7},{"t":137.43,"v":165.9},{"t":138.57,"v":156.1},{"t":139.71,"v":158.5},{"t":140.86,"v":153.7},{"t":142.0,"v":151.2},{"t":143.14,"v":154.6},{"t":144.29,"v":156.1},{"t":145.43,"v":158.5},{"t":146.57,"v":168.3},{"t":147.71,"v":175.6},{"t":148.86,"v":173.2},{"t":150.0,"v":178.0},{"t":151.14,"v":175.6},{"t":152.29,"v":185.4},{"t":153.43,"v":190.2},{"t":154.57,"v":187.8},{"t":155.71,"v":192.7},{"t":156.86,"v":190.2},{"t":158.0,"v":195.1},{"t":159.14,"v":192.7},{"t":160.29,"v":182.9},{"t":161.43,"v":185.4},{"t":162.57,"v":182.9},{"t":163.14,"v":241.5},{"t":164.0,"v":231.7},{"t":164.86,"v":192.7},{"t":166.0,"v":200.0},{"t":167.14,"v":192.7},{"t":168.29,"v":202.4},{"t":169.43,"v":187.8},{"t":170.57,"v":190.2},{"t":171.71,"v":192.7},{"t":172.86,"v":185.4},{"t":174.0,"v":187.8},{"t":175.14,"v":195.1},{"t":176.29,"v":200.0},{"t":177.43,"v":202.4},{"t":178.57,"v":197.6},{"t":180,"v":204.9}],
"d360":[{"t":0,"v":261.0},{"t":1.7,"v":285.4},{"t":4.0,"v":280.5},{"t":6.3,"v":334.1},{"t":8.6,"v":319.5},{"t":10.9,"v":295.1},{"t":13.1,"v":300.0},{"t":15.4,"v":285.4},{"t":17.7,"v":295.1},{"t":20.0,"v":265.9},{"t":22.3,"v":290.2},{"t":24.6,"v":304.9},{"t":26.9,"v":312.7},{"t":29.1,"v":290.2},{"t":31.4,"v":280.5},{"t":33.7,"v":295.1},{"t":36.0,"v":285.4},{"t":38.3,"v":300.0},{"t":40.6,"v":306.8},{"t":42.9,"v":290.2},{"t":45.1,"v":275.6},{"t":47.4,"v":285.4},{"t":49.7,"v":280.5},{"t":52.0,"v":295.1},{"t":54.3,"v":290.2},{"t":56.6,"v":304.9},{"t":58.9,"v":295.1},{"t":61.1,"v":300.0},{"t":63.4,"v":290.2},{"t":65.7,"v":295.1},{"t":68.0,"v":304.9},{"t":70.3,"v":280.5},{"t":72.6,"v":290.2},{"t":74.9,"v":275.6},{"t":77.1,"v":258.0},{"t":79.4,"v":280.5},{"t":81.7,"v":285.4},{"t":84.0,"v":329.3},{"t":86.3,"v":300.0},{"t":88.6,"v":309.8},{"t":90.9,"v":285.4},{"t":93.1,"v":304.9},{"t":95.4,"v":300.0},{"t":97.7,"v":319.5},{"t":100.0,"v":309.8},{"t":102.3,"v":329.3},{"t":104.6,"v":343.9},{"t":106.9,"v":363.4},{"t":109.1,"v":397.6},{"t":111.4,"v":392.7},{"t":113.7,"v":412.2},{"t":116.0,"v":387.8},{"t":117.1,"v":426.8},{"t":119.4,"v":397.6},{"t":121.7,"v":392.7},{"t":124.0,"v":339.0},{"t":126.3,"v":373.2},{"t":128.6,"v":363.4},{"t":130.9,"v":358.5},{"t":133.1,"v":368.3},{"t":135.4,"v":343.9},{"t":137.7,"v":368.3},{"t":140.0,"v":368.3},{"t":142.3,"v":334.1},{"t":144.6,"v":324.4},{"t":146.9,"v":334.1},{"t":149.1,"v":324.4},{"t":151.4,"v":329.3},{"t":153.7,"v":319.5},{"t":156.0,"v":304.9},{"t":158.3,"v":300.0},{"t":160.6,"v":300.0},{"t":162.9,"v":280.5},{"t":165.1,"v":290.2},{"t":167.4,"v":275.6},{"t":169.7,"v":217.1},{"t":172.0,"v":236.6},{"t":174.3,"v":231.7},{"t":176.6,"v":241.5},{"t":178.9,"v":256.1},{"t":181.1,"v":251.2},{"t":183.4,"v":258.0},{"t":185.7,"v":246.3},{"t":188.0,"v":254.1},{"t":190.3,"v":241.5},{"t":192.6,"v":231.7},{"t":194.9,"v":226.8},{"t":197.1,"v":212.2},{"t":199.4,"v":207.3},{"t":201.7,"v":192.7},{"t":204.0,"v":173.2},{"t":206.3,"v":182.9},{"t":208.6,"v":182.9},{"t":210.9,"v":187.8},{"t":213.1,"v":192.7},{"t":215.4,"v":192.7},{"t":217.7,"v":197.6},{"t":220.0,"v":199.5},{"t":222.3,"v":182.9},{"t":224.6,"v":178.0},{"t":226.9,"v":163.4},{"t":229.1,"v":153.7},{"t":231.4,"v":143.9},{"t":233.7,"v":148.8},{"t":236.0,"v":146.8},{"t":238.3,"v":143.9},{"t":240.6,"v":148.8},{"t":242.9,"v":153.7},{"t":245.1,"v":166.3},{"t":247.4,"v":176.1},{"t":249.7,"v":182.9},{"t":252.0,"v":180.0},{"t":254.3,"v":182.9},{"t":256.6,"v":178.0},{"t":258.9,"v":173.2},{"t":261.1,"v":163.4},{"t":263.4,"v":187.8},{"t":265.7,"v":217.1},{"t":268.0,"v":224.9},{"t":270.3,"v":202.4},{"t":272.6,"v":197.6},{"t":274.9,"v":192.7},{"t":277.1,"v":197.6},{"t":279.4,"v":182.9},{"t":281.7,"v":173.2},{"t":284.0,"v":168.3},{"t":286.3,"v":182.9},{"t":288.6,"v":178.0},{"t":290.9,"v":143.9},{"t":293.1,"v":146.8},{"t":295.4,"v":143.9},{"t":297.7,"v":153.7},{"t":300.0,"v":148.8},{"t":302.3,"v":143.9},{"t":304.6,"v":146.8},{"t":306.9,"v":139.0},{"t":309.1,"v":146.8},{"t":311.4,"v":146.8},{"t":313.7,"v":148.8},{"t":316.0,"v":163.4},{"t":318.3,"v":153.7},{"t":320.6,"v":148.8},{"t":322.9,"v":156.6},{"t":325.1,"v":163.4},{"t":327.4,"v":173.2},{"t":329.7,"v":178.0},{"t":332.0,"v":182.9},{"t":334.3,"v":192.7},{"t":336.6,"v":182.9},{"t":338.9,"v":197.6},{"t":341.1,"v":238.5},{"t":342.9,"v":212.2},{"t":344.6,"v":182.9},{"t":346.9,"v":197.6},{"t":349.1,"v":185.9},{"t":351.4,"v":185.9},{"t":353.7,"v":192.7},{"t":356.0,"v":195.6},{"t":358.3,"v":202.4},{"t":360,"v":197.6}]
},
"concat":[
{"width":300,"height":200,"title":"4 hours","layer":[
 {"data":{"values":[{}]},"mark":{"type":"rect","fill":"white"},"encoding":{
  "x":{"datum":0,"type":"quantitative","title":null,"scale":{"domain":[0,240],"range":[81,291],"nice":false,"zero":false},"axis":{"zindex":1,"orient":"bottom","offset":-40,"values":[0,33.333,66.667,100,133.333,166.667,200,233.333],"labelExpr":"['02:26','02:59','03:32','04:06','04:39','05:12','05:46','06:19'][round(datum.value/33.333)]"}},
  "x2":{"datum":240},
  "y":{"datum":196,"type":"quantitative","title":null,"scale":{"domain":[196,201],"range":[160,21.7],"nice":false,"zero":false},"axis":{"zindex":1,"orient":"left","offset":-81,"values":[196.5,197.5,198.5,199.5,200.5],"labels":false,"grid":false,"domain":false,"tickSize":-3}},
  "y2":{"datum":201}}},
 {"data":{"name":"h4"},"mark":{"type":"area","interpolate":"step-after","color":"#00698f","fillOpacity":0.16,"line":{"color":"#00698f","strokeWidth":1}},"encoding":{
  "x":{"field":"t","type":"quantitative","title":null},
  "y":{"field":"v","type":"quantitative","title":null,"axis":{"zindex":1,"orient":"left","offset":-81,"values":[196,197,198,199,200,201],"format":".1f","grid":true}},
  "y2":{"datum":196}}}],
 "resolve":{"axis":{"y":"independent"}}},
{"width":300,"height":200,"title":"12 hours","layer":[
 {"data":{"values":[{}]},"mark":{"type":"rect","fill":"white"},"encoding":{
  "x":{"datum":0,"type":"quantitative","title":null,"scale":{"domain":[0,720],"range":[81,291],"nice":false,"zero":false},"axis":{"zindex":1,"orient":"bottom","offset":-40,"values":[0,166.667,333.333,500,666.667],"labelExpr":"['18:26','21:12','23:59','02:46','05:32'][round(datum.value/166.667)]"}},
  "x2":{"datum":720},
  "y":{"datum":195,"type":"quantitative","title":null,"scale":{"domain":[195,220],"range":[160,21.7],"nice":false,"zero":false},"axis":{"zindex":1,"orient":"left","offset":-81,"values":[196,197,198,199,201,202,203,204,206,207,208,209,211,212,213,214,216,217,218,219],"labels":false,"grid":false,"domain":false,"tickSize":-3}},
  "y2":{"datum":220}}},
 {"data":{"name":"h12"},"mark":{"type":"area","interpolate":"step-after","color":"#00698f","fillOpacity":0.16,"line":{"color":"#00698f","strokeWidth":1}},"encoding":{
  "x":{"field":"t","type":"quantitative","title":null},
  "y":{"field":"v","type":"quantitative","title":null,"axis":{"zindex":1,"orient":"left","offset":-81,"values":[195,200,205,210,215,220],"grid":true}},
  "y2":{"datum":195}}}],
 "resolve":{"axis":{"y":"independent"}}},
{"width":300,"height":200,"title":"1 day","layer":[
 {"data":{"values":[{}]},"mark":{"type":"rect","fill":"white"},"encoding":{
  "x":{"datum":0,"type":"quantitative","title":null,"scale":{"domain":[0,1440],"range":[81,291],"nice":false,"zero":false},"axis":{"zindex":1,"orient":"bottom","offset":-40,"values":[0,333.333,666.667,1000,1333.333],"labelExpr":"['06:26','11:59','17:32','23:06','04:39'][round(datum.value/333.333)]"}},
  "x2":{"datum":1440},
  "y":{"datum":195,"type":"quantitative","title":null,"scale":{"domain":[195,220],"range":[160,21.7],"nice":false,"zero":false},"axis":{"zindex":1,"orient":"left","offset":-81,"values":[196,197,198,199,201,202,203,204,206,207,208,209,211,212,213,214,216,217,218,219],"labels":false,"grid":false,"domain":false,"tickSize":-3}},
  "y2":{"datum":220}}},
 {"data":{"name":"d1"},"mark":{"type":"area","interpolate":"step-after","color":"#00698f","fillOpacity":0.16,"line":{"color":"#00698f","strokeWidth":1}},"encoding":{
  "x":{"field":"t","type":"quantitative","title":null},
  "y":{"field":"v","type":"quantitative","title":null,"axis":{"zindex":1,"orient":"left","offset":-81,"values":[195,200,205,210,215,220],"grid":true}},
  "y2":{"datum":195}}}],
 "resolve":{"axis":{"y":"independent"}}},
{"width":300,"height":200,"title":"7 days","layer":[
 {"data":{"values":[{}]},"mark":{"type":"rect","fill":"white"},"encoding":{
  "x":{"datum":0,"type":"quantitative","title":null,"scale":{"domain":[0,7],"range":[81,291],"nice":false,"zero":false},"axis":{"zindex":1,"orient":"bottom","offset":-40,"values":[0,1.154,2.308,3.462,4.616,5.77,6.924],"labelExpr":"['05.08','06.08','07.08','08.08','09.08','11.08','12.08'][round(datum.value/1.154)]"}},
  "x2":{"datum":7},
  "y":{"datum":180,"type":"quantitative","title":null,"scale":{"domain":[180,220],"range":[160,23.3],"nice":false,"zero":false},"axis":{"zindex":1,"orient":"left","offset":-81,"values":[185,195,205,215],"labels":false,"grid":false,"domain":false,"tickSize":-3}},
  "y2":{"datum":220}}},
 {"data":{"name":"d7"},"mark":{"type":"area","interpolate":"step-after","color":"#00698f","fillOpacity":0.16,"line":{"color":"#00698f","strokeWidth":1}},"encoding":{
  "x":{"field":"t","type":"quantitative","title":null},
  "y":{"field":"v","type":"quantitative","title":null,"axis":{"zindex":1,"orient":"left","offset":-81,"values":[180,190,200,210,220],"grid":true}},
  "y2":{"datum":180}}}],
 "resolve":{"axis":{"y":"independent"}}},
{"width":300,"height":200,"title":"14 days","layer":[
 {"data":{"values":[{}]},"mark":{"type":"rect","fill":"white"},"encoding":{
  "x":{"datum":0,"type":"quantitative","title":null,"scale":{"domain":[0,14],"range":[81,291],"nice":false,"zero":false},"axis":{"zindex":1,"orient":"bottom","offset":-40,"values":[0,2.308,4.616,6.924,9.232,11.54,13.848],"labelExpr":"['29.07','31.07','02.08','05.08','07.08','09.08','12.08'][round(datum.value/2.308)]"}},
  "x2":{"datum":14},
  "y":{"datum":180,"type":"quantitative","title":null,"scale":{"domain":[180,230],"range":[160,23.3],"nice":false,"zero":false},"axis":{"zindex":1,"orient":"left","offset":-81,"values":[185,195,205,215,225],"labels":false,"grid":false,"domain":false,"tickSize":-3}},
  "y2":{"datum":230}}},
 {"data":{"name":"d14"},"mark":{"type":"area","interpolate":"step-after","color":"#00698f","fillOpacity":0.16,"line":{"color":"#00698f","strokeWidth":1}},"encoding":{
  "x":{"field":"t","type":"quantitative","title":null},
  "y":{"field":"v","type":"quantitative","title":null,"axis":{"zindex":1,"orient":"left","offset":-81,"values":[180,190,200,210,220,230],"grid":true}},
  "y2":{"datum":180}}}],
 "resolve":{"axis":{"y":"independent"}}},
{"width":300,"height":200,"title":"30 days","layer":[
 {"data":{"values":[{}]},"mark":{"type":"rect","fill":"white"},"encoding":{
  "x":{"datum":0,"type":"quantitative","title":null,"scale":{"domain":[0,30],"range":[81,291],"nice":false,"zero":false},"axis":{"zindex":1,"orient":"bottom","offset":-40,"values":[0,5.77,11.54,17.31,23.08,28.85],"labelExpr":"['13.07','19.07','24.07','30.07','05.08','11.08'][round(datum.value/5.77)]"}},
  "x2":{"datum":30},
  "y":{"datum":160,"type":"quantitative","title":null,"scale":{"domain":[160,240],"range":[160,23.3],"nice":false,"zero":false},"axis":{"zindex":1,"orient":"left","offset":-81,"values":[170,190,210,230],"labels":false,"grid":false,"domain":false,"tickSize":-3}},
  "y2":{"datum":240}}},
 {"data":{"name":"d30"},"mark":{"type":"area","interpolate":"step-after","color":"#00698f","fillOpacity":0.16,"line":{"color":"#00698f","strokeWidth":1}},"encoding":{
  "x":{"field":"t","type":"quantitative","title":null},
  "y":{"field":"v","type":"quantitative","title":null,"axis":{"zindex":1,"orient":"left","offset":-81,"values":[160,180,200,220,240],"grid":true}},
  "y2":{"datum":160}}}],
 "resolve":{"axis":{"y":"independent"}}},
{"width":300,"height":200,"title":"90 days","layer":[
 {"data":{"values":[{}]},"mark":{"type":"rect","fill":"white"},"encoding":{
  "x":{"datum":0,"type":"quantitative","title":null,"scale":{"domain":[0,90],"range":[81,291],"nice":false,"zero":false},"axis":{"zindex":1,"orient":"bottom","offset":-40,"values":[0,11.57,23.14,34.71,46.28,57.85,69.42,80.99],"labelExpr":"['May','May','Jun','Jun','Jun','Jul','Jul','Aug'][round(datum.value/11.57)]"}},
  "x2":{"datum":90},
  "y":{"datum":100,"type":"quantitative","title":null,"scale":{"domain":[100,250],"range":[160,23.3],"nice":false,"zero":false},"axis":{"zindex":1,"orient":"left","offset":-81,"values":[110,120,130,140,160,170,180,190,210,220,230,240],"labels":false,"grid":false,"domain":false,"tickSize":-3}},
  "y2":{"datum":250}}},
 {"data":{"name":"d90"},"mark":{"type":"area","interpolate":"step-after","color":"#00698f","fillOpacity":0.16,"line":{"color":"#00698f","strokeWidth":1}},"encoding":{
  "x":{"field":"t","type":"quantitative","title":null},
  "y":{"field":"v","type":"quantitative","title":null,"axis":{"zindex":1,"orient":"left","offset":-81,"values":[100,150,200,250],"grid":true}},
  "y2":{"datum":100}}}],
 "resolve":{"axis":{"y":"independent"}}},
{"width":300,"height":200,"title":"180 days","layer":[
 {"data":{"values":[{}]},"mark":{"type":"rect","fill":"white"},"encoding":{
  "x":{"datum":0,"type":"quantitative","title":null,"scale":{"domain":[0,180],"range":[81,291],"nice":false,"zero":false},"axis":{"zindex":1,"orient":"bottom","offset":-40,"values":[0,23.14,46.28,69.42,92.56,115.7,138.84,161.98],"labelExpr":"['Feb','Mar','Mar','Apr','May','Jun','Jul','Jul'][round(datum.value/23.14)]"}},
  "x2":{"datum":180},
  "y":{"datum":100,"type":"quantitative","title":null,"scale":{"domain":[100,300],"range":[160,23.3],"nice":false,"zero":false},"axis":{"zindex":1,"orient":"left","offset":-81,"values":[110,120,130,140,160,170,180,190,210,220,230,240,260,270,280,290],"labels":false,"grid":false,"domain":false,"tickSize":-3}},
  "y2":{"datum":300}}},
 {"data":{"name":"d180"},"mark":{"type":"area","interpolate":"step-after","color":"#00698f","fillOpacity":0.16,"line":{"color":"#00698f","strokeWidth":1}},"encoding":{
  "x":{"field":"t","type":"quantitative","title":null},
  "y":{"field":"v","type":"quantitative","title":null,"axis":{"zindex":1,"orient":"left","offset":-81,"values":[100,150,200,250,300],"grid":true}},
  "y2":{"datum":100}}}],
 "resolve":{"axis":{"y":"independent"}}},
{"width":300,"height":200,"title":"360 days","layer":[
 {"data":{"values":[{}]},"mark":{"type":"rect","fill":"white"},"encoding":{
  "x":{"datum":0,"type":"quantitative","title":null,"scale":{"domain":[0,360],"range":[81,291],"nice":false,"zero":false},"axis":{"zindex":1,"orient":"bottom","offset":-40,"values":[0,57.7,115.4,173.1,230.8,288.5,346.2],"labelExpr":"['Aug','Oct','Dec','Feb','Apr','Jun','Jul'][round(datum.value/57.7)]"}},
  "x2":{"datum":360},
  "y":{"datum":100,"type":"quantitative","title":null,"scale":{"domain":[100,500],"range":[160,23.3],"nice":false,"zero":false},"axis":{"zindex":1,"orient":"left","offset":-81,"values":[150,250,350,450],"labels":false,"grid":false,"domain":false,"tickSize":-3}},
  "y2":{"datum":500}}},
 {"data":{"name":"d360"},"mark":{"type":"area","interpolate":"step-after","color":"#00698f","fillOpacity":0.16,"line":{"color":"#00698f","strokeWidth":1}},"encoding":{
  "x":{"field":"t","type":"quantitative","title":null},
  "y":{"field":"v","type":"quantitative","title":null,"axis":{"zindex":1,"orient":"left","offset":-81,"values":[100,200,300,400,500],"grid":true}},
  "y2":{"datum":100}}}],
 "resolve":{"axis":{"y":"independent"}}}
]
}
